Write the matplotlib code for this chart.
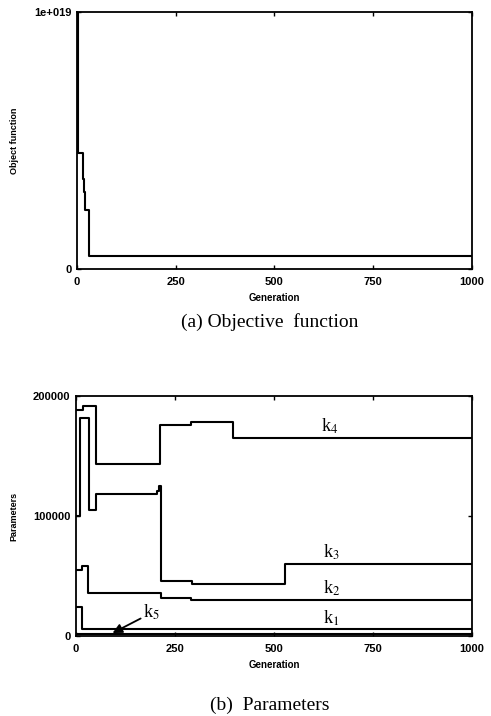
import matplotlib
matplotlib.use("Agg")
import matplotlib.pyplot as plt

plt.rcParams['font.family'] = ['Liberation Sans', 'DejaVu Sans']
plt.rcParams['mathtext.fontset'] = 'stix'

# (a) objective function, step values
obj_gen = [0, 2, 15, 18, 21, 30, 1000]
obj_val = [1e19, 4.5e18, 3.5e18, 3.0e18, 2.3e18, 5e17, 5e17]

# (b) parameters
k4_gen = [0, 17, 50, 213, 290, 396, 1000]
k4_val = [188000, 192000, 143000, 176000, 178500, 165000, 165000]

k3_gen = [0, 10, 32, 50, 205, 209, 214, 293, 527, 1000]
k3_val = [100000, 182000, 105000, 118000, 121000, 125000, 45500, 43000, 60000, 60000]

k2_gen = [0, 14, 30, 214, 290, 1000]
k2_val = [55000, 58000, 36000, 31500, 30000, 30000]

k1_gen = [0, 14, 1000]
k1_val = [24000, 5500, 5500]

k5_gen = [0, 1000]
k5_val = [1500, 1500]

xticks = [0, 250, 500, 750, 1000]

fig = plt.figure(figsize=(4.91, 7.16), dpi=100)

def style(ax):
    ax.set_xlim(0, 1000)
    ax.set_xticks(xticks)
    ax.tick_params(direction='in', top=True, right=True, length=3, width=1,
                   labelsize=8)
    ax.tick_params(axis='x', pad=6)
    ax.tick_params(axis='y', pad=4)
    for lab in ax.get_xticklabels() + ax.get_yticklabels():
        lab.set_fontweight('bold')
    for s in ax.spines.values():
        s.set_linewidth(1.3)
    ax.set_xlabel('Generation', fontsize=7, fontweight='bold', labelpad=4)

ax1 = fig.add_axes([0.157, 0.6243, 0.804, 0.359])
ax1.plot(obj_gen, obj_val, color='black', lw=1.5, drawstyle='steps-post')
ax1.set_ylim(0, 1e19)
ax1.set_yticks([0, 1e19])
ax1.set_yticklabels(['0', '1e+019'])
style(ax1)
ax1.set_ylabel('Object function', fontsize=6.5, fontweight='bold')
ax1.yaxis.set_label_coords(-0.147, 0.5)
fig.text(0.55, 0.550, '(a) Objective  function', ha='center', va='center',
         fontsize=14, family='Liberation Serif')

ax2 = fig.add_axes([0.155, 0.1117, 0.8065, 0.3352])
for g, v in [(k4_gen, k4_val), (k3_gen, k3_val), (k2_gen, k2_val),
             (k1_gen, k1_val), (k5_gen, k5_val)]:
    ax2.plot(g, v, color='black', lw=1.5, drawstyle='steps-post')
ax2.set_ylim(0, 200000)
ax2.set_yticks([0, 100000, 200000])
ax2.set_yticklabels(['0', '100000', '200000'])
style(ax2)
ax2.set_ylabel('Parameters', fontsize=6.5, fontweight='bold')
ax2.yaxis.set_label_coords(-0.146, 0.5)

lab_kw = dict(ha='center', va='bottom', fontsize=13, family='Liberation Serif')
ax2.text(640, 167000, r'k$_4$', **lab_kw)
ax2.text(645, 61500, r'k$_3$', **lab_kw)
ax2.text(645, 31500, r'k$_2$', **lab_kw)
ax2.text(645, 7000, r'k$_1$', **lab_kw)
ax2.annotate(r'k$_5$', xy=(92, 2500), xytext=(170, 15000),
             fontsize=13, family='Liberation Serif',
             arrowprops=dict(arrowstyle='-|>', color='black', lw=1.3,
                             mutation_scale=14, shrinkA=0, shrinkB=0))
fig.text(0.55, 0.0155, '(b)  Parameters', ha='center', va='center',
         fontsize=14, family='Liberation Serif')

fig.savefig('out.png', dpi=100)
